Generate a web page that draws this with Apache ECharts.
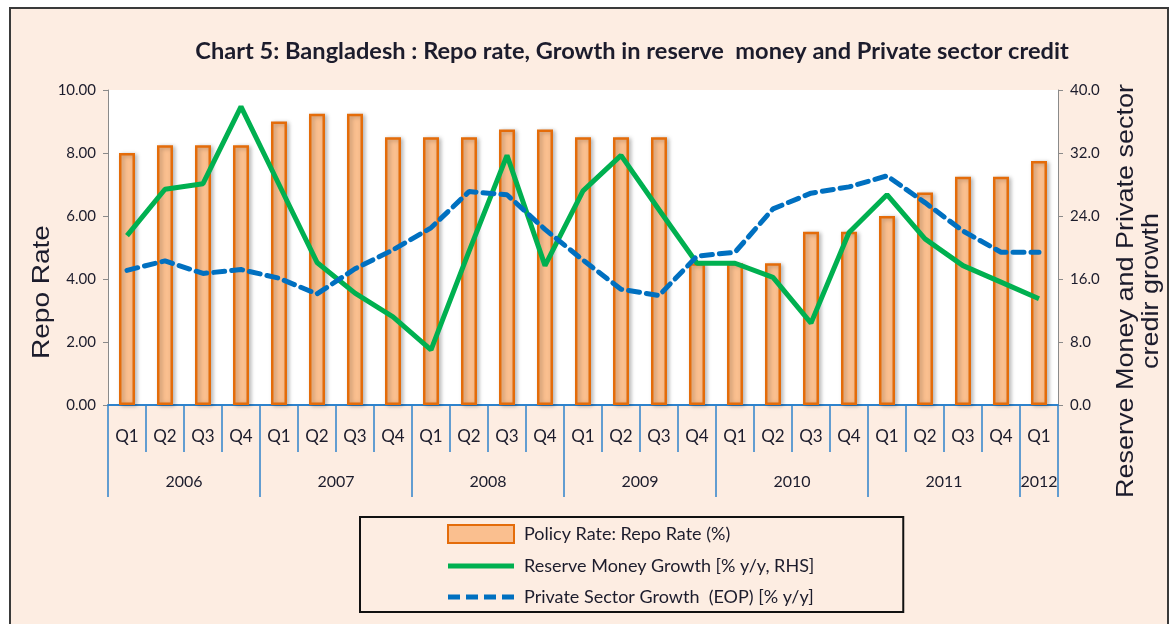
<!DOCTYPE html>
<html>
<head>
<meta charset="utf-8">
<title>Chart 5: Bangladesh</title>
<script src="https://cdn.jsdelivr.net/npm/echarts@6/dist/echarts.min.js"></script>
<style>
  html, body { margin: 0; padding: 0; background: #fff; }
  #chart { width: 1173px; height: 624px; }
</style>
</head>
<body>
<div id="chart"></div>
<script>
// quarters 2006 Q1 .. 2012 Q1
const quarterLabels = ['Q1','Q2','Q3','Q4','Q1','Q2','Q3','Q4','Q1','Q2','Q3','Q4','Q1','Q2','Q3','Q4','Q1','Q2','Q3','Q4','Q1','Q2','Q3','Q4','Q1'];
const yearLabels = ['2006','2006','2006','2006','2007','2007','2007','2007','2008','2008','2008','2008','2009','2009','2009','2009','2010','2010','2010','2010','2011','2011','2011','2011','2012'];

// repo rate (%), left axis
const repoRate = [8.0, 8.25, 8.25, 8.25, 9.0, 9.25, 9.25, 8.5, 8.5, 8.5, 8.75, 8.75, 8.5, 8.5, 8.5, 4.5, 4.5, 4.5, 5.5, 5.5, 6.0, 6.75, 7.25, 7.25, 7.75];
// reserve money growth (% y/y), right axis
const reserveMoney = [21.5, 27.4, 28.1, 37.9, 28.0, 18.1, 14.2, 11.2, 7.0, 19.5, 31.7, 17.7, 27.2, 31.7, 24.8, 18.0, 18.0, 16.2, 10.4, 21.9, 26.7, 21.1, 17.7, 15.6, 13.5];
// private sector credit growth (% y/y), right axis
const privateCredit = [17.1, 18.3, 16.7, 17.2, 16.1, 14.1, 17.3, 19.7, 22.5, 27.1, 26.7, 22.3, 18.4, 14.7, 13.9, 18.9, 19.4, 24.9, 26.9, 27.7, 29.1, 25.7, 22.1, 19.4, 19.4];

const leftTicks = { min: 0, max: 10, interval: 2 };
const rightTicks = { min: 0, max: 40, interval: 8 };

const uiFont = 'Lato';
const textColor = '#1c1c2c';
const axisBlue = '#2f83cc';

// legend icons: a thick bar and a dashed bar inside a 66x18 box
const solidIcon = 'path://M0,0M66,18M0,6.5H66V11.5H0Z';
const dashIcon = 'path://M0,0M66,18M0,6.5H12V11.5H0Z M18,6.5H30V11.5H18Z M36,6.5H48V11.5H36Z M54,6.5H66V11.5H54Z';

// where a year starts and how many quarters it has
function yearSpan(idx) {
    const y = yearLabels[idx];
    let first = idx;
    while (first > 0 && yearLabels[first - 1] === y) first--;
    let count = 0;
    while (first + count < yearLabels.length && yearLabels[first + count] === y) count++;
    return { first, count };
}

const chart = echarts.init(document.getElementById('chart'));

const option = {
    backgroundColor: '#fff',
    animation: false,
    title: {
        text: 'Chart 5: Bangladesh : Repo rate, Growth in reserve  money and Private sector credit',
        left: 632,
        top: 39,
        padding: 0,
        textAlign: 'center',
        textStyle: {
            fontFamily: uiFont,
            fontWeight: 'bold',
            fontSize: 23.6,
            color: textColor
        }
    },
    graphic: [
        {
            type: 'rect',
            z: -10,
            silent: true,
            shape: { x: 10, y: 8, width: 1158, height: 640 },
            style: { fill: '#fdede2', stroke: '#3a3a3a', lineWidth: 2 }
        },
        {
            type: 'text',
            x: 42,
            y: 292,
            rotation: Math.PI / 2,
            scaleY: 0.87,
            style: {
                text: 'Repo Rate',
                font: '28px "Liberation Sans"',
                fill: textColor,
                align: 'center',
                verticalAlign: 'middle'
            }
        },
        {
            type: 'text',
            x: 1139,
            y: 291,
            rotation: Math.PI / 2,
            scaleY: 0.87,
            style: {
                text: 'Reserve Money and Private sector\ncredir growth',
                font: '27px "Liberation Sans"',
                lineHeight: 29,
                fill: textColor,
                align: 'center',
                verticalAlign: 'middle'
            }
        }
    ],
    grid: {
        left: 108,
        right: 115,
        top: 90,
        bottom: 219,
        show: true,
        backgroundColor: '#fff',
        borderWidth: 0
    },
    legend: {
        orient: 'vertical',
        left: 360,
        top: 517,
        padding: [7, 89, 6, 87],
        itemGap: 13,
        itemWidth: 66,
        itemHeight: 18,
        borderColor: '#111',
        borderWidth: 2,
        backgroundColor: '#fdede2',
        textStyle: {
            fontFamily: uiFont,
            fontSize: 18,
            color: textColor,
            padding: [0, 0, 0, 5]
        },
        data: [
            { name: 'Policy Rate: Repo Rate (%)', icon: 'rect' },
            { name: 'Reserve Money Growth [% y/y, RHS]', icon: solidIcon },
            { name: 'Private Sector Growth  (EOP) [% y/y]', icon: dashIcon }
        ]
    },
    xAxis: [
        {
            type: 'category',
            data: quarterLabels,
            position: 'bottom',
            axisLine: { show: true, lineStyle: { color: axisBlue, width: 2 } },
            axisTick: { show: true, interval: 0, length: 47, lineStyle: { color: axisBlue, width: 1.5 } },
            axisLabel: {
                interval: 0,
                margin: 23,
                fontFamily: uiFont,
                fontSize: 17,
                color: textColor
            },
            splitLine: { show: false }
        },
        {
            type: 'category',
            data: yearLabels,
            position: 'bottom',
            axisLine: { show: false },
            axisTick: {
                show: true,
                length: 92,
                interval: (idx) => idx === 0 || yearLabels[idx] !== yearLabels[idx - 1],
                lineStyle: { color: axisBlue, width: 1.5 }
            },
            axisLabel: {
                interval: 0,
                margin: 69,
                fontFamily: uiFont,
                fontSize: 16,
                color: textColor,
                formatter: (value, idx) => {
                    const s = yearSpan(idx);
                    if (s.count % 2 === 0) {
                        return idx === s.first + s.count / 2 - 1 ? '{shift|' + value + '}' : '';
                    }
                    return idx === s.first + (s.count - 1) / 2 ? '{mid|' + value + '}' : '';
                },
                rich: {
                    shift: { padding: [0, 0, 0, 38], fontFamily: uiFont, fontSize: 16, color: textColor },
                    mid: { fontFamily: uiFont, fontSize: 16, color: textColor }
                }
            },
            splitLine: { show: false }
        }
    ],
    yAxis: [
        {
            type: 'value',
            min: leftTicks.min,
            max: leftTicks.max,
            interval: leftTicks.interval,
            axisLine: { show: true, lineStyle: { color: '#8a8a8a', width: 1 } },
            axisTick: { show: true, length: 5, lineStyle: { color: '#8a8a8a' } },
            axisLabel: {
                margin: 12,
                fontFamily: uiFont,
                fontSize: 15,
                color: textColor,
                formatter: (v) => v.toFixed(2)
            },
            splitLine: { show: false }
        },
        {
            type: 'value',
            min: rightTicks.min,
            max: rightTicks.max,
            interval: rightTicks.interval,
            position: 'right',
            axisLine: { show: true, lineStyle: { color: '#8a8a8a', width: 1 } },
            axisTick: { show: true, length: 5, lineStyle: { color: '#8a8a8a' } },
            axisLabel: {
                margin: 12,
                fontFamily: uiFont,
                fontSize: 15,
                color: textColor,
                formatter: (v) => v.toFixed(1)
            },
            splitLine: { show: false }
        }
    ],
    series: [
        {
            name: 'Policy Rate: Repo Rate (%)',
            type: 'bar',
            data: repoRate,
            barWidth: 16,
            itemStyle: {
                color: '#fabf8f',
                borderColor: '#e46c0a',
                borderWidth: 2.5,
                shadowColor: 'rgba(0,0,0,0.25)',
                shadowBlur: 4,
                shadowOffsetX: 2,
                shadowOffsetY: 1
            }
        },
        {
            name: 'Reserve Money Growth [% y/y, RHS]',
            type: 'line',
            yAxisIndex: 1,
            data: reserveMoney,
            symbol: 'none',
            lineStyle: { color: '#00b050', width: 5 },
            itemStyle: { color: '#00b050' }
        },
        {
            name: 'Private Sector Growth  (EOP) [% y/y]',
            type: 'line',
            yAxisIndex: 1,
            data: privateCredit,
            symbol: 'none',
            lineStyle: { color: '#0070c0', width: 5, type: [11, 7], cap: 'round' },
            itemStyle: { color: '#0070c0' }
        }
    ]
};

chart.setOption(option);
</script>
</body>
</html>
